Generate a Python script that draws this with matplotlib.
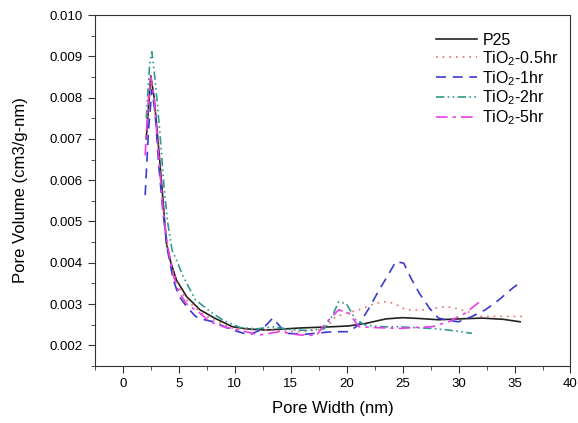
import matplotlib
matplotlib.use("Agg")
import matplotlib.pyplot as plt
from matplotlib.ticker import MultipleLocator, FormatStrFormatter

plt.rcParams['font.family'] = ['Liberation Sans', 'DejaVu Sans']
plt.rcParams['mathtext.fontset'] = 'custom'
plt.rcParams['mathtext.rm'] = 'Liberation Sans'
plt.rcParams['mathtext.it'] = 'Liberation Sans:italic'

labels = ["P25", "TiO$_2$-0.5hr", "TiO$_2$-1hr", "TiO$_2$-2hr", "TiO$_2$-5hr"]

p25_x = [2.1, 2.5, 2.8, 3.2, 3.6, 3.9, 4.3, 4.8, 5.7, 6.9, 8.2, 9.8, 11.0, 12.8, 15.8, 18.7, 20.2, 21.7, 23.5, 25.0, 26.5, 28.2, 30.0, 32.1, 34.0, 35.5]
p25_y = [0.0070, 0.00853, 0.0080, 0.0068, 0.0055, 0.00447, 0.0040, 0.00358, 0.00318, 0.00286, 0.00266, 0.00245, 0.0024, 0.00237, 0.00242, 0.00245, 0.00247, 0.00253, 0.00264, 0.00267, 0.00265, 0.00262, 0.00264, 0.00266, 0.00263, 0.00257]

t05_x = [2.1, 2.5, 2.8, 3.2, 3.6, 4.0, 4.5, 5.0, 5.7, 6.9, 8.2, 9.8, 11.5, 13.5, 15.8, 17.5, 18.5, 19.0, 20.0, 21.1, 22.2, 23.2, 24.2, 25.3, 27.0, 28.8, 29.7, 30.8, 31.8, 33.0, 34.2, 36.0]
t05_y = [0.0072, 0.0084, 0.0080, 0.0066, 0.0053, 0.0044, 0.0038, 0.0034, 0.0031, 0.0028, 0.0026, 0.00242, 0.00238, 0.00236, 0.00233, 0.00238, 0.00253, 0.00269, 0.00278, 0.00286, 0.00298, 0.00306, 0.00302, 0.00286, 0.00286, 0.00294, 0.0029, 0.00282, 0.0027, 0.0027, 0.0027, 0.0027]

t1_x = [2.0, 2.3, 2.6, 2.9, 3.2, 3.6, 4.0, 4.5, 5.0, 5.7, 6.5, 7.3, 8.1, 9.5, 11.3, 12.5, 13.4, 14.6, 16.4, 18.7, 20.2, 21.1, 22.0, 22.9, 23.7, 24.4, 25.1, 25.8, 26.5, 27.4, 28.2, 29.2, 30.0, 31.2, 32.4, 33.6, 34.8, 35.4]
t1_y = [0.00564, 0.0072, 0.0082, 0.0076, 0.0064, 0.0052, 0.0043, 0.0036, 0.0032, 0.00294, 0.0027, 0.00262, 0.00257, 0.0024, 0.00225, 0.0024, 0.00266, 0.00229, 0.00227, 0.00233, 0.00233, 0.0025, 0.0029, 0.00334, 0.0037, 0.00403, 0.00399, 0.0036, 0.00326, 0.0029, 0.00266, 0.0026, 0.00257, 0.0027, 0.00286, 0.0031, 0.00338, 0.0035]

t2_x = [2.1, 2.4, 2.6, 2.9, 3.3, 3.7, 4.0, 4.4, 4.9, 5.4, 6.5, 7.8, 9.0, 10.5, 12.0, 13.5, 15.0, 16.5, 18.0, 18.7, 19.3, 20.0, 20.8, 21.7, 23.0, 24.7, 26.0, 27.6, 29.1, 30.2, 31.2]
t2_y = [0.0075, 0.0088, 0.00911, 0.0084, 0.0072, 0.0058, 0.0050, 0.00431, 0.0040, 0.00366, 0.0031, 0.00282, 0.0026, 0.00243, 0.0024, 0.00245, 0.00238, 0.00236, 0.0024, 0.0027, 0.00306, 0.003, 0.00262, 0.00249, 0.00245, 0.00245, 0.00243, 0.00241, 0.00237, 0.00233, 0.00229]

t5_x = [2.0, 2.3, 2.5, 2.8, 3.2, 3.6, 4.0, 4.5, 5.0, 5.7, 6.8, 7.8, 9.0, 10.4, 12.2, 14.0, 15.8, 17.3, 18.1, 18.7, 19.3, 20.2, 21.1, 22.5, 24.7, 26.0, 27.6, 29.1, 30.6, 32.1]
t5_y = [0.0066, 0.0080, 0.0085, 0.0080, 0.0066, 0.0053, 0.0044, 0.0037, 0.0033, 0.0030, 0.0028, 0.00257, 0.00245, 0.00237, 0.00225, 0.00233, 0.00225, 0.00224, 0.00253, 0.0027, 0.00286, 0.00278, 0.00245, 0.00243, 0.00241, 0.00243, 0.00245, 0.00257, 0.00278, 0.0031]

fig = plt.figure(figsize=(5.78, 4.23), dpi=100)
ax = fig.add_axes([0.164, 0.1348, 0.823, 0.8297])

ax.plot(p25_x, p25_y, color='#222222', lw=1.2, ls='-', label=labels[0])
ax.plot(t05_x, t05_y, color='#f06a6a', lw=1.2, ls=(0, (1, 3)), label=labels[1])
ax.plot(t1_x, t1_y, color='#3a3ad0', lw=1.2, ls=(0, (6, 4)), label=labels[2])
ax.plot(t2_x, t2_y, color='#2f9a8e', lw=1.2, ls=(0, (5, 2, 1, 2, 1, 2)), label=labels[3])
ax.plot(t5_x, t5_y, color='#e83ee8', lw=1.2, ls=(0, (7, 3, 2, 3)), label=labels[4])

ax.set_xlim(-2.5, 40)
ax.set_ylim(0.0015, 0.010)
ax.xaxis.set_major_locator(MultipleLocator(5))
ax.xaxis.set_minor_locator(MultipleLocator(2.5))
ax.yaxis.set_major_locator(MultipleLocator(0.001))
ax.yaxis.set_minor_locator(MultipleLocator(0.0005))
ax.yaxis.set_major_formatter(FormatStrFormatter('%.3f'))
ax.tick_params(which='both', direction='out', top=False, right=False, labelsize=9.5, color='#333333')
ax.tick_params(which='major', length=5)
ax.tick_params(which='minor', length=3)
for s in ax.spines.values():
    s.set_color('#333333')

ax.set_xlabel('Pore Width (nm)', fontsize=12, labelpad=8)
ax.set_ylabel('Pore Volume (cm3/g-nm)', fontsize=12, labelpad=16)

leg = ax.legend(loc='upper right', bbox_to_anchor=(1.005, 0.99), frameon=False, fontsize=11.5,
                handlelength=2.6, handletextpad=0.3, labelspacing=0.07)

fig.savefig('out.png', dpi=100)
